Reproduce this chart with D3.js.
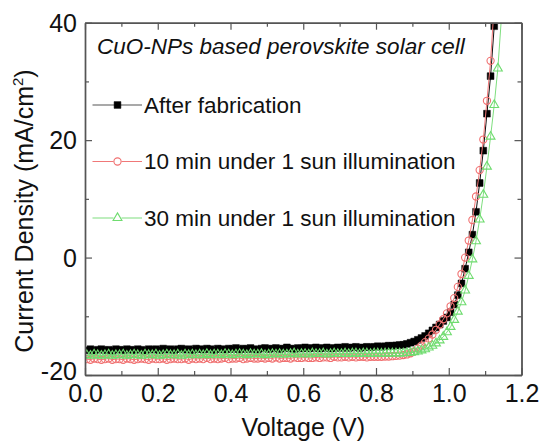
<!DOCTYPE html>
<html>
<head>
<meta charset="utf-8">
<script src="https://cdn.jsdelivr.net/npm/d3@7"></script>
<style>
  html, body { margin: 0; padding: 0; background: #fff; }
  svg { display: block; font-family: "Liberation Sans", Arial, sans-serif; }
</style>
</head>
<body>
<svg id="chart" width="542" height="446"></svg>
<script>
// J–V sweep voltages (V)
const voltage = [
  0.005,0.015,0.025,0.035,0.045,0.055,0.065,0.075,0.085,0.095,
  0.105,0.115,0.125,0.135,0.145,0.155,0.165,0.175,0.185,0.195,
  0.205,0.215,0.225,0.235,0.245,0.255,0.265,0.275,0.285,0.295,
  0.305,0.315,0.325,0.335,0.345,0.355,0.365,0.375,0.385,0.395,
  0.405,0.415,0.425,0.435,0.445,0.455,0.465,0.475,0.485,0.495,
  0.505,0.515,0.525,0.535,0.545,0.555,0.565,0.575,0.585,0.595,
  0.605,0.615,0.625,0.635,0.645,0.655,0.665,0.675,0.685,0.695,
  0.705,0.715,0.725,0.735,0.745,0.755,0.765,0.775,0.785,0.795,
  0.805,0.815,0.825,0.835,0.845,0.855,0.865,0.875,0.885,0.895,
  0.905,0.915,0.925,0.935,0.945,0.955,0.965,0.975,0.985,0.995,
  1.005,1.015,1.025,1.035,1.045,1.055,1.065,1.075,1.085,1.095,
  1.105,1.115,1.125,1.135,1.145
];

// Current density (mA/cm2), one value per sweep voltage
const afterFabrication = [
  -15.8,-15.6,-15.9,-15.7,-15.6,-15.8,-15.7,-15.9,-15.6,-15.7,
  -15.8,-15.6,-15.7,-15.8,-15.6,-15.7,-15.9,-15.6,-15.7,-15.6,
  -15.8,-15.5,-15.7,-15.6,-15.8,-15.6,-15.5,-15.7,-15.6,-15.8,
  -15.5,-15.6,-15.7,-15.5,-15.6,-15.8,-15.5,-15.6,-15.7,-15.5,
  -15.6,-15.4,-15.7,-15.5,-15.6,-15.4,-15.6,-15.7,-15.5,-15.4,
  -15.6,-15.5,-15.4,-15.6,-15.5,-15.3,-15.5,-15.6,-15.4,-15.5,
  -15.3,-15.5,-15.4,-15.3,-15.5,-15.4,-15.3,-15.5,-15.4,-15.3,
  -15.4,-15.2,-15.4,-15.3,-15.2,-15.4,-15.3,-15.2,-15.3,-15.2,
  -15.1,-15.2,-15.1,-15.0,-15.05,-14.95,-14.9,-14.85,-14.7,-14.5,
  -14.3,-14.0,-13.7,-13.35,-12.9,-12.4,-11.9,-11.4,-10.8,-10.2,
  -9.3,-8.0,-6.4,-4.4,-1.9,0.9,3.9,7.8,12.7,18.2,
  24.5,30.9,39.4
];

const tenMinIllum = [
  -17.3,-17.4,-17.2,-17.3,-17.4,-17.3,-17.2,-17.4,-17.3,-17.3,
  -17.4,-17.2,-17.3,-17.4,-17.3,-17.2,-17.3,-17.4,-17.2,-17.3,
  -17.3,-17.2,-17.4,-17.3,-17.2,-17.3,-17.3,-17.2,-17.4,-17.2,
  -17.3,-17.2,-17.3,-17.1,-17.3,-17.2,-17.3,-17.2,-17.1,-17.3,
  -17.2,-17.2,-17.1,-17.3,-17.2,-17.1,-17.2,-17.2,-17.1,-17.2,
  -17.1,-17.2,-17.0,-17.2,-17.1,-17.1,-17.2,-17.0,-17.1,-17.1,
  -17.0,-17.1,-17.1,-17.0,-17.1,-17.0,-17.0,-17.1,-16.9,-17.0,
  -17.0,-16.9,-17.0,-16.9,-17.0,-16.9,-16.9,-17.0,-16.9,-16.9,
  -16.9,-16.9,-16.85,-16.85,-16.8,-16.75,-16.7,-16.6,-16.5,-16.3,
  -16.0,-15.5,-15.0,-14.4,-13.8,-13.1,-12.3,-11.4,-10.5,-9.5,
  -8.3,-6.9,-5.0,-2.8,0.0,2.9,6.4,10.4,14.9,20.1,
  26.7,33.5,43.0
];

const thirtyMinIllum = [
  -16.6,-16.7,-16.5,-16.6,-16.7,-16.6,-16.5,-16.7,-16.6,-16.6,
  -16.5,-16.7,-16.6,-16.5,-16.6,-16.7,-16.5,-16.6,-16.6,-16.5,
  -16.7,-16.6,-16.5,-16.6,-16.6,-16.5,-16.7,-16.5,-16.6,-16.5,
  -16.6,-16.5,-16.6,-16.4,-16.6,-16.5,-16.5,-16.6,-16.4,-16.5,
  -16.6,-16.5,-16.4,-16.5,-16.6,-16.4,-16.5,-16.5,-16.4,-16.6,
  -16.5,-16.4,-16.5,-16.4,-16.5,-16.5,-16.4,-16.3,-16.5,-16.4,
  -16.4,-16.5,-16.3,-16.4,-16.4,-16.3,-16.5,-16.4,-16.3,-16.4,
  -16.4,-16.3,-16.4,-16.3,-16.3,-16.4,-16.3,-16.3,-16.4,-16.3,
  -16.3,-16.35,-16.3,-16.3,-16.3,-16.3,-16.3,-16.3,-16.25,-16.2,
  -16.1,-16.0,-15.8,-15.6,-15.3,-15.0,-14.6,-14.1,-13.5,-12.7,
  -11.8,-10.6,-9.2,-7.6,-5.6,-3.1,-0.3,2.8,6.5,10.7,
  15.5,20.6,26.0,32.2,41.0
];

const seriesNames = [
  "After fabrication",
  "10 min under 1 sun illumination",
  "30 min under 1 sun illumination"
];

const xMajorTicks = [0, 0.2, 0.4, 0.6, 0.8, 1.0, 1.2];
const xMinorTicks = [0.1, 0.3, 0.5, 0.7, 0.9, 1.1];
const yMajorTicks = [-20, 0, 20, 40];
const yMinorTicks = [-10, 10, 30];

const titleText = "CuO-NPs based perovskite solar cell";
const xLabel = "Voltage (V)";

// ---- layout ----
const svg = d3.select("#chart");
const plotLeft = 85, plotRight = 521.5, plotTop = 22.7, plotBottom = 375;

const x = d3.scaleLinear().domain([0, 1.2]).range([plotLeft, plotRight]);
const y = d3.scaleLinear().domain([-20, 40]).range([plotBottom, plotTop]);

const frameColor = "#555";
const styles = [
  { line: "#111", stroke: "#000", fill: "#000", shape: "square" },
  { line: "#f07878", stroke: "#f07070", fill: "none", shape: "circle" },
  { line: "#7ede7e", stroke: "#6fdc6f", fill: "none", shape: "triangle" }
];
const seriesData = [afterFabrication, tenMinIllum, thirtyMinIllum];

svg.append("defs").append("clipPath").attr("id", "plotClip")
  .append("rect")
  .attr("x", plotLeft).attr("y", plotTop)
  .attr("width", plotRight - plotLeft).attr("height", plotBottom - plotTop);

// ---- data ----
const plot = svg.append("g").attr("clip-path", "url(#plotClip)");

const symbolPath = {
  square: d3.symbol(d3.symbolSquare, 46)(),
  triangle: d3.symbol(d3.symbolTriangle, 34)()
};

function drawMarker(g, style) {
  if (style.shape === "circle") {
    g.append("circle").attr("r", 3.6)
      .attr("fill", style.fill).attr("stroke", style.stroke).attr("stroke-width", 1.1);
  } else {
    g.append("path").attr("d", symbolPath[style.shape])
      .attr("fill", style.fill).attr("stroke", style.stroke)
      .attr("stroke-width", style.shape === "square" ? 0.5 : 1.1);
  }
}

seriesData.forEach((vals, si) => {
  const pts = vals.map((j, i) => [voltage[i], j]);
  const st = styles[si];
  const line = d3.line().x(d => x(d[0])).y(d => y(d[1]));
  plot.append("path").datum(pts)
    .attr("d", line).attr("fill", "none")
    .attr("stroke", st.line).attr("stroke-width", 1);
  const g = plot.append("g");
  pts.forEach(p => {
    const m = g.append("g").attr("transform", `translate(${x(p[0])},${y(p[1])})`);
    drawMarker(m, st);
  });
});

// ---- axes (ticks point inward on all four sides) ----
function styleAxis(g) {
  g.select(".domain").attr("stroke", frameColor).attr("stroke-width", 1.4);
  g.selectAll(".tick line").attr("stroke", frameColor).attr("stroke-width", 1.2);
  g.selectAll(".tick text").attr("fill", "#111");
}

const fmtX = d3.format(".1f");

const xBottom = svg.append("g").attr("transform", `translate(0,${plotBottom})`)
  .call(d3.axisBottom(x).tickValues(xMajorTicks).tickSizeInner(-7).tickSizeOuter(0)
    .tickFormat(fmtX));
styleAxis(xBottom);
xBottom.selectAll(".tick text").attr("font-size", 25).attr("dy", "0.71em").attr("y", 9);

svg.append("g").attr("transform", `translate(0,${plotBottom})`)
  .call(d3.axisBottom(x).tickValues(xMinorTicks).tickSizeInner(-4).tickSizeOuter(0).tickFormat(""))
  .call(styleAxis);

svg.append("g").attr("transform", `translate(0,${plotTop})`)
  .call(d3.axisTop(x).tickValues(xMajorTicks).tickSizeInner(-7).tickSizeOuter(0).tickFormat(""))
  .call(styleAxis);
svg.append("g").attr("transform", `translate(0,${plotTop})`)
  .call(d3.axisTop(x).tickValues(xMinorTicks).tickSizeInner(-4).tickSizeOuter(0).tickFormat(""))
  .call(styleAxis);

const yLeft = svg.append("g").attr("transform", `translate(${plotLeft},0)`)
  .call(d3.axisLeft(y).tickValues(yMajorTicks).tickSizeInner(-7).tickSizeOuter(0)
    .tickFormat(d => d < 0 ? "-" + Math.abs(d) : String(d)));
styleAxis(yLeft);
yLeft.selectAll(".tick text").attr("font-size", 25).attr("x", -8).attr("dy", "0.35em");
// the lowest label sits slightly raised so it clears the 0.0 label below it
yLeft.selectAll(".tick text").filter(d => d === -20).attr("y", -4);

svg.append("g").attr("transform", `translate(${plotLeft},0)`)
  .call(d3.axisLeft(y).tickValues(yMinorTicks).tickSizeInner(-4).tickSizeOuter(0).tickFormat(""))
  .call(styleAxis);

svg.append("g").attr("transform", `translate(${plotRight},0)`)
  .call(d3.axisRight(y).tickValues(yMajorTicks).tickSizeInner(-7).tickSizeOuter(0).tickFormat(""))
  .call(styleAxis);
svg.append("g").attr("transform", `translate(${plotRight},0)`)
  .call(d3.axisRight(y).tickValues(yMinorTicks).tickSizeInner(-4).tickSizeOuter(0).tickFormat(""))
  .call(styleAxis);

// ---- axis titles ----
svg.append("text")
  .attr("x", (plotLeft + plotRight) / 2).attr("y", 435.5)
  .attr("text-anchor", "middle").attr("font-size", 25).attr("fill", "#111")
  .text(xLabel);

const yTitle = svg.append("text")
  .attr("transform", "translate(33,211) rotate(-90)")
  .attr("text-anchor", "middle").attr("font-size", 25).attr("fill", "#111");
yTitle.append("tspan").text("Current Density (mA/cm");
yTitle.append("tspan").attr("font-size", 15).attr("dy", -10).text("2");
yTitle.append("tspan").attr("dy", 10).text(")");

// ---- in-plot title ----
svg.append("text")
  .attr("x", 97).attr("y", 54)
  .attr("font-size", 22.5).attr("font-style", "italic").attr("fill", "#111")
  .text(titleText);

// ---- legend ----
const legendRows = [105, 161.5, 218];
seriesNames.forEach((name, i) => {
  const st = styles[i];
  const ly = legendRows[i];
  const g = svg.append("g");
  g.append("line").attr("x1", 92.5).attr("x2", 142).attr("y1", ly).attr("y2", ly)
    .attr("stroke", i === 0 ? "#555" : st.line).attr("stroke-width", 1.2);
  const m = g.append("g").attr("transform", `translate(117.5,${ly})`);
  if (st.fill === "none") m.append("rect").attr("x", -4).attr("y", -4).attr("width", 8).attr("height", 8).attr("fill", "#fff");
  drawMarker(m, st);
  g.append("text").attr("x", 144).attr("y", ly + 7.8)
    .attr("font-size", 22.5).attr("fill", "#111").text(name);
});
</script>
</body>
</html>
